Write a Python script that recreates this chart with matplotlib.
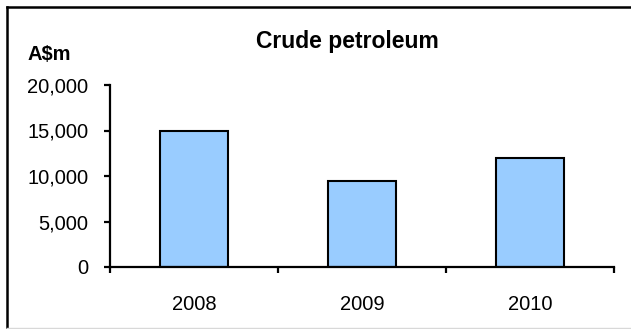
import matplotlib
matplotlib.use("Agg")
import matplotlib.pyplot as plt
from matplotlib.lines import Line2D
from matplotlib.ticker import FuncFormatter, FixedLocator

years = ["2008", "2009", "2010"]
values = [15000, 9450, 11950]
title = "Crude petroleum"
unit_label = "A$m"
yticks = [0, 5000, 10000, 15000, 20000]

plt.rcParams['font.family'] = ['Liberation Sans', 'DejaVu Sans']

W, H = 631, 329
fig = plt.figure(figsize=(W/100, H/100), dpi=100)
ax = fig.add_axes([110/W, 1-267/H, (614-110)/W, (267-85)/H])

x = list(range(len(years)))
ax.bar(x, values, width=0.4, color="#99CCFF", edgecolor="black", linewidth=1.5, zorder=2)

ax.set_xlim(-0.5, len(years)-0.5)
ax.set_ylim(0, 20000)
ax.set_yticks(yticks)
ax.yaxis.set_major_formatter(FuncFormatter(lambda v, p: f"{int(v):,}"))
ax.set_xticks(x)
ax.set_xticklabels(years)
ax.xaxis.set_minor_locator(FixedLocator([i - 0.5 for i in range(len(years)+1)]))

for s in ["top", "right"]:
    ax.spines[s].set_visible(False)
for s in ["left", "bottom"]:
    ax.spines[s].set_linewidth(1.6)

ax.tick_params(axis="y", which="major", length=4.5, width=1.6, pad=11, labelsize=14.5, direction="out")
ax.tick_params(axis="x", which="major", length=0, pad=20, labelsize=14.5)
ax.tick_params(axis="x", which="minor", length=4.5, width=1.6, direction="out")

fig.text(347/W, 1-48/H, title, ha="center", va="baseline", fontsize=16.5, fontweight="bold")
fig.text(27/W, 1-60/H, unit_label, ha="left", va="baseline", fontsize=14.5, fontweight="bold")

# outer frame: black on left and top, light grey at bottom
fig.add_artist(Line2D([7/W, 7/W], [1-7/H, 1-327/H], color="black", linewidth=1.8, transform=fig.transFigure))
fig.add_artist(Line2D([7/W, 1.0], [1-7/H, 1-7/H], color="black", linewidth=1.8, transform=fig.transFigure))
fig.add_artist(Line2D([7/W, 1.0], [1-327.5/H, 1-327.5/H], color="#d8d8d8", linewidth=1, transform=fig.transFigure))

fig.savefig("out.png", dpi=100)
